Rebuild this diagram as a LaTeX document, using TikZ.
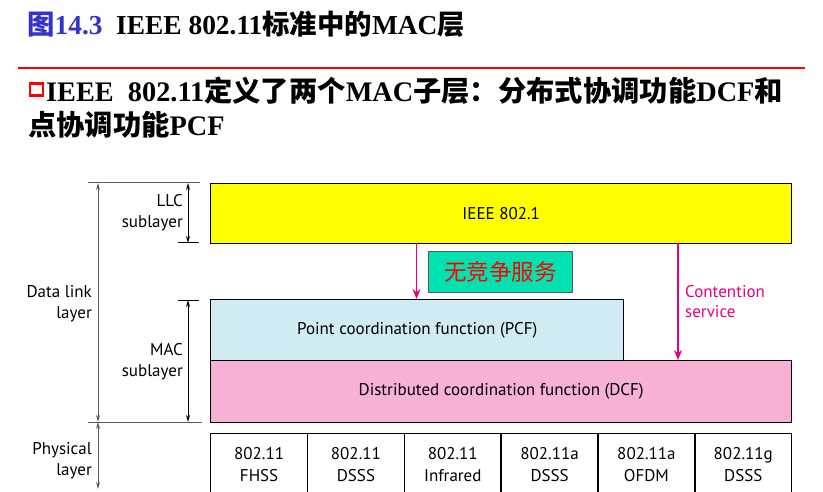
\documentclass[tikz,border=0pt]{standalone}
\usepackage{fontspec}
\setmainfont{Liberation Serif}
\newfontfamily\cjk{Noto Sans CJK SC}
\newfontfamily\diag{PT Sans}
\usetikzlibrary{arrows.meta}
\newcommand\zh[1]{{\cjk #1}}
\definecolor{titleblue}{RGB}{51,51,204}
\definecolor{accent}{RGB}{230,0,126}
\definecolor{llcyellow}{RGB}{255,255,0}
\definecolor{pcfblue}{RGB}{208,236,242}
\definecolor{dcfpink}{RGB}{247,176,214}
\definecolor{freegreen}{RGB}{0,226,176}
\definecolor{rulegray}{RGB}{90,90,90}
\begin{document}
\begin{tikzpicture}[x=1pt,y=-1pt,
  headtext/.style={inner sep=0pt,anchor=west,font=\bfseries\fontsize{27.4}{30}\selectfont},
  bodytext/.style={inner sep=0pt,anchor=west,font=\bfseries\fontsize{28.3}{31}\selectfont},
  layerbox/.style={draw=black,line width=1.4pt,anchor=north west,inner sep=0pt,
    font=\diag\fontsize{17}{20}\selectfont},
  phycell/.style={draw=black,line width=1.4pt,anchor=north west,inner sep=0pt,
    minimum width=96.83pt,minimum height=70pt,align=center,text depth=8pt,
    font=\diag\fontsize{17}{22}\selectfont},
  sidelabel/.style={inner sep=0pt,anchor=east,align=right,
    font=\diag\fontsize{17}{21}\selectfont},
  graytick/.style={draw=rulegray,line width=1pt},
  blacktick/.style={draw=black,line width=1pt},
  grayspan/.style={draw=rulegray,line width=1pt,{Stealth[length=7pt,width=4pt]}-{Stealth[length=7pt,width=4pt]}},
  blackspan/.style={draw=black,line width=1pt,{Stealth[length=7pt,width=4pt]}-{Stealth[length=7pt,width=4pt]}},
  service/.style={draw=accent,line width=1.4pt,-{Stealth[length=10pt,width=8pt]}}
]
\useasboundingbox (0,0) rectangle (823,492);

% heading
\node[headtext] (title) at (27,24)
  {\textcolor{titleblue}{\zh{图}14.3}\ \ IEEE 802.11\zh{标准中的}MAC\zh{层}};
\coordinate (ruleL) at (18,68);
\coordinate (ruleR) at (805,68);
\draw[red,line width=2.2pt] (ruleL) -- (ruleR);

% bullet text
\node[draw=red,line width=2.8pt,fill=white,inner sep=0pt,minimum width=13pt,minimum height=12pt] (bullet) at (36.5,89.5) {};
\node[bodytext] (line1) at (46,91)
  {IEEE\ \ 802.11\zh{定义了两个}MAC\zh{子层：分布式协调功能}DCF\zh{和}};
\node[bodytext] (line2) at (28,125) {\zh{点协调功能}PCF};

% layer boxes
\node[layerbox,fill=llcyellow,minimum width=581pt,minimum height=60pt] (llc) at (210,183) {IEEE 802.1};
\node[layerbox,fill=pcfblue,minimum width=413pt,minimum height=61pt] (pcf) at (210,299) {Point coordination function (PCF)};
\node[layerbox,fill=dcfpink,minimum width=581pt,minimum height=62pt] (dcf) at (210,360) {Distributed coordination function (DCF)};
\node[draw=rulegray,line width=0.8pt,fill=freegreen,anchor=north west,inner sep=0pt,
  minimum width=144pt,minimum height=41pt,text=red,font=\cjk\fontsize{22.5}{24}\selectfont] (free) at (428,251) {无竞争服务};

% physical layer cells
\foreach \i/\txt in {0/{802.11\\FHSS},1/{802.11\\DSSS},2/{802.11\\Infrared},3/{802.11a\\DSSS},4/{802.11a\\OFDM},5/{802.11g\\DSSS}}
  \node[phycell] (phy\i) at (210+96.83*\i,433) {\txt};

% service arrows
\coordinate (freeTop) at (416.5,243);
\coordinate (freeEnd) at (416.5,299);
\draw[service] (freeTop) -- (freeEnd);
\coordinate (contTop) at (678,243);
\coordinate (contEnd) at (678,360);
\draw[service] (contTop) -- (contEnd);
\node[inner sep=0pt,anchor=west,align=left,text=accent,font=\diag\fontsize{17}{20}\selectfont] (contlabel) at (685,302) {Contention\\service};

% left-hand span markers
\coordinate (dlTopL) at (88,183);
\coordinate (dlTopR) at (200,183);
\coordinate (dlBotL) at (88,422);
\coordinate (dlBotR) at (202,422);
\coordinate (llcBotL) at (178,243);
\coordinate (llcBotR) at (199,243);
\coordinate (macTopL) at (178,300);
\coordinate (macTopR) at (199,300);
\draw[graytick] (dlTopL) -- (dlTopR);
\draw[graytick] (dlBotL) -- (dlBotR);
\draw[blacktick] (llcBotL) -- (llcBotR);
\draw[blacktick] (macTopL) -- (macTopR);

\coordinate (dlA) at (98,183);
\coordinate (dlB) at (98,422);
\coordinate (phA) at (98,422);
\coordinate (phB) at (98,489);
\coordinate (llcA) at (188,183);
\coordinate (llcB) at (188,243);
\coordinate (macA) at (188,300);
\coordinate (macB) at (188,422);
\draw[grayspan] (dlA) -- (dlB);
\draw[grayspan] (phA) -- (phB);
\draw[blackspan] (llcA) -- (llcB);
\draw[blackspan] (macA) -- (macB);

\node[sidelabel] (llclabel) at (183,213) {LLC\\sublayer};
\node[sidelabel] (maclabel) at (183,362) {MAC\\sublayer};
\node[sidelabel] (dllabel) at (92,304) {Data link\\layer};
\node[sidelabel] (phlabel) at (92,461) {Physical\\layer};
\end{tikzpicture}
\end{document}
